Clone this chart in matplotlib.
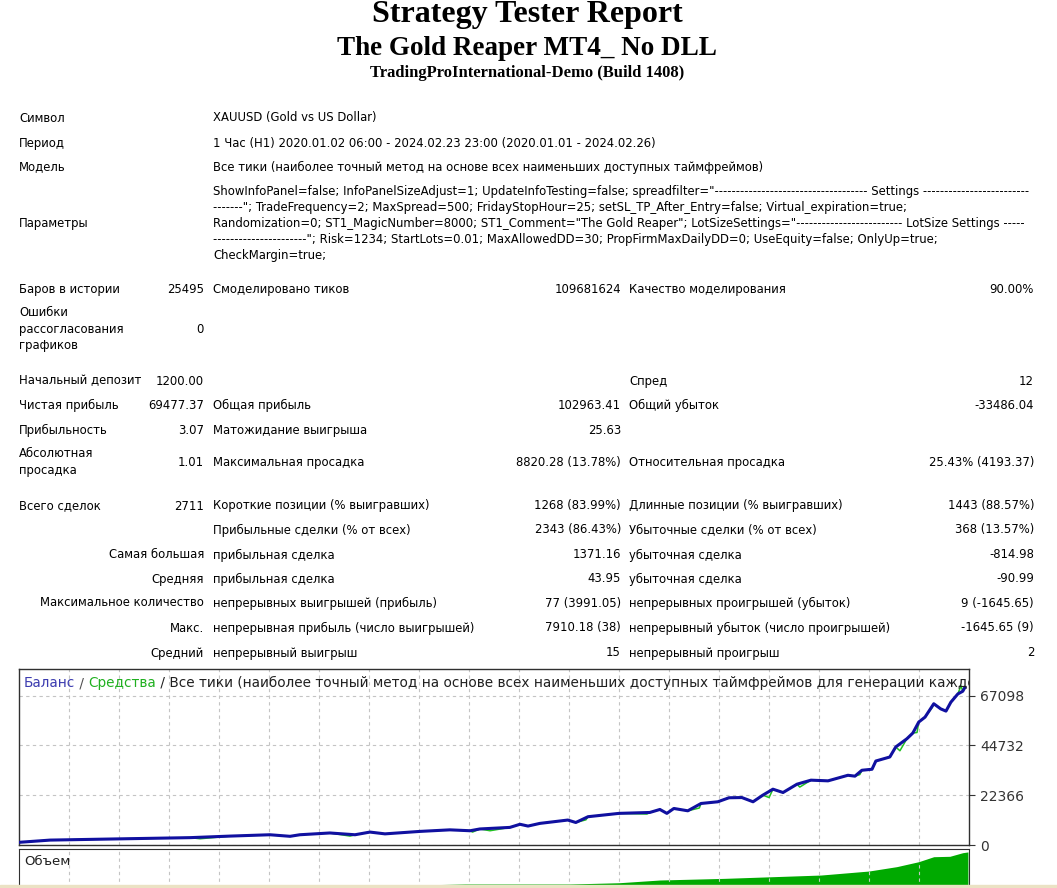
"""
MT4 strategy tester report: header, statistics table and balance/equity chart.
"""
import numpy as np
import matplotlib.pyplot as plt
from matplotlib.patches import Rectangle

W, H = 1057, 888

# ---- header texts
title = "Strategy Tester Report"
expert = "The Gold Reaper MT4_ No DLL"
server = "TradingProInternational-Demo (Build 1408)"

info_labels = ["Символ", "Период", "Модель"]
info_values = [
    "XAUUSD (Gold vs US Dollar)",
    "1 Час (H1) 2020.01.02 06:00 - 2024.02.23 23:00 (2020.01.01 - 2024.02.26)",
    "Все тики (наиболее точный метод на основе всех наименьших доступных таймфреймов)",
]
params_label = "Параметры"
params_lines = [
    'ShowInfoPanel=false; InfoPanelSizeAdjust=1; UpdateInfoTesting=false; spreadfilter="'
    + "-" * 36 + " Settings " + "-" * 25,
    '-------"; TradeFrequency=2; MaxSpread=500; FridayStopHour=25; setSL_TP_After_Entry=false; Virtual_expiration=true;',
    'Randomization=0; ST1_MagicNumber=8000; ST1_Comment="The Gold Reaper"; LotSizeSettings="'
    + "-" * 25 + " LotSize Settings -----",
    "-" * 22 + '"; Risk=1234; StartLots=0.01; MaxAllowedDD=30; PropFirmMaxDailyDD=0; UseEquity=false; OnlyUp=true;',
    "CheckMargin=true;",
]

# ---- statistics table, six columns per row
stats = [
    ("Баров в истории", "25495", "Смоделировано тиков", "109681624", "Качество моделирования", "90.00%"),
    ("Ошибки\nрассогласования\nграфиков", "0", "", "", "", ""),
    ("Начальный депозит", "1200.00", "", "", "Спред", "12"),
    ("Чистая прибыль", "69477.37", "Общая прибыль", "102963.41", "Общий убыток", "-33486.04"),
    ("Прибыльность", "3.07", "Матожидание выигрыша", "25.63", "", ""),
    ("Абсолютная\nпросадка", "1.01", "Максимальная просадка", "8820.28 (13.78%)", "Относительная просадка", "25.43% (4193.37)"),
    ("Всего сделок", "2711", "Короткие позиции (% выигравших)", "1268 (83.99%)", "Длинные позиции (% выигравших)", "1443 (88.57%)"),
    ("", "", "Прибыльные сделки (% от всех)", "2343 (86.43%)", "Убыточные сделки (% от всех)", "368 (13.57%)"),
    ("", "Самая большая", "прибыльная сделка", "1371.16", "убыточная сделка", "-814.98"),
    ("", "Средняя", "прибыльная сделка", "43.95", "убыточная сделка", "-90.99"),
    ("", "Максимальное количество", "непрерывных выигрышей (прибыль)", "77 (3991.05)", "непрерывных проигрышей (убыток)", "9 (-1645.65)"),
    ("", "Макс.", "непрерывная прибыль (число выигрышей)", "7910.18 (38)", "непрерывный убыток (число проигрышей)", "-1645.65 (9)"),
    ("", "Средний", "непрерывный выигрыш", "15", "непрерывный проигрыш", "2"),
]

# ---- balance / equity curve (trade number, account value)
bal_trade = [0, 89, 304, 490, 605, 719, 777, 805, 891, 963, 1006, 1049, 1149, 1235,
             1293, 1321, 1407, 1436, 1459, 1493, 1573, 1596, 1631, 1720, 1808, 1837,
             1857, 1877, 1917, 1955, 2003, 2035, 2072, 2104, 2132, 2161, 2190, 2230,
             2270, 2319, 2376, 2396, 2416, 2445, 2456, 2496, 2513, 2545, 2562, 2579,
             2597, 2622, 2642, 2657, 2671, 2691, 2705, 2711]
bal_value = [1200, 2200, 2800, 3300, 4000, 4600, 3900, 4600, 5400, 4600, 5800, 5000,
             6100, 6800, 6400, 7200, 7900, 9300, 8500, 9700, 11200, 10100, 12700, 14200,
             14600, 15950, 14200, 16400, 15350, 18640, 19400, 21200, 21300, 19400, 22370,
             25050, 23560, 27300, 29100, 28800, 31300, 30900, 33550, 34000, 37700, 39500,
             44000, 47700, 50250, 55200, 57400, 63400, 61100, 60100, 64100, 67800, 69000,
             70677]
# equity drawdowns that show below the balance line
dip_trade = [519, 949, 1300, 1350, 1625, 1800, 1950, 2150, 2238, 2410, 2525, 2574, 2618, 2700]
dip_value = [2800, 4000, 5800, 6400, 11300, 13900, 16600, 21300, 26000, 31600, 42300, 50500, 61800, 71500]

# ---- volume (lots) by trade number
vol_trade = [0, 600, 1000, 1278, 1579, 1720, 1837, 2023, 2161, 2299, 2436, 2516, 2579,
             2622, 2668, 2705, 2720]
vol_lots = [0.05, 0.12, 0.2, 0.41, 0.41, 0.54, 0.82, 0.99, 1.16, 1.33, 1.74, 2.19,
            2.70, 3.21, 3.25, 3.62, 3.70]

y_ticks = [0, 22366, 44732, 67098]

plt.rcParams['font.family'] = ['DejaVu Sans']
fig = plt.figure(figsize=(W / 100, H / 100), dpi=100)
fig.patch.set_facecolor('white')


def put(x, y, s, **kw):
    # place text using pixel coordinates measured from the top-left corner
    kw.setdefault('fontsize', 8.4)
    kw.setdefault('va', 'center')
    fig.text(x / W, 1 - y / H, s, **kw)


serif = ['Liberation Serif', 'DejaVu Serif']
put(527, 22, title, ha='center', va='baseline', fontsize=23, weight='bold', family=serif)
put(527, 55, expert, ha='center', va='baseline', fontsize=19.5, weight='bold', family=serif)
put(527, 77, server, ha='center', va='baseline', fontsize=12, weight='bold', family=serif)

for lab, val, y in zip(info_labels, info_values, [118, 143, 167]):
    put(19, y, lab)
    put(213, y, val)
put(19, 224, params_label)
for i, line in enumerate(params_lines):
    put(213, 191 + i * 16.2, line)

row_y = [289, 329, 381, 405, 430, 462, 506, 530, 555, 579, 603, 628, 653]
col_x = [19, 204, 213, 621, 629, 1034]
col_ha = ['left', 'right', 'left', 'right', 'left', 'right']
for row, y in zip(stats, row_y):
    for cell, x, ha in zip(row, col_x, col_ha):
        lines = cell.split('\n')
        n = len(lines)
        for k, ln in enumerate(lines):
            put(x, y + (k - (n - 1) / 2) * 16.5, ln, ha=ha)

# ---- balance chart
x_max = 2723
grid_x = np.arange(1, 19) * x_max / 19
ax = fig.add_axes([19 / W, 1 - 845 / H, 950 / W, 176 / H])
ax.set_xlim(0, x_max)
ax.set_ylim(0, 79000)

eq_trade = np.array(bal_trade + dip_trade)
eq_value = np.array(bal_value + dip_value)
order = np.argsort(eq_trade, kind='stable')
ax.plot(eq_trade[order], eq_value[order], color='#20c020', lw=1.1, zorder=3)
ax.plot(bal_trade, bal_value, color='#1010a0', lw=2.2, zorder=4)

ax.set_xticks(grid_x)
ax.set_yticks(y_ticks)
ax.set_yticklabels([str(v) for v in y_ticks])
ax.yaxis.tick_right()
ax.tick_params(axis='x', length=0, labelbottom=False)
ax.tick_params(axis='y', length=4, width=0.8, pad=4, labelsize=10, colors='#333333')
ax.grid(True, color='#c4c4c4', lw=0.8, ls=(0, (3, 3)))
for s in ax.spines.values():
    s.set_color('#303030')
    s.set_linewidth(1.0)

# chart caption: coloured parts chained one after another
pieces = [("Баланс", '#3c3cb0'), (" / ", '#505050'), ("Средства", '#20b020'),
          (" / Все тики (наиболее точный метод на основе всех наименьших доступных "
           "таймфреймов для генерации каждого тика)", '#202020')]
prev = ax.text((24 - 19) / 950, (845 - 683) / 176, pieces[0][0], transform=ax.transAxes,
               color=pieces[0][1], fontsize=9.85, va='center', clip_on=True, zorder=5)
for txt, col in pieces[1:]:
    prev = ax.annotate(txt, xy=(1, 0), xycoords=prev, va='bottom', ha='left',
                       color=col, fontsize=9.85, clip_on=True, annotation_clip=False,
                       zorder=5)

# ---- volume panel (cut by the bottom of the page)
vax = fig.add_axes([19 / W, 0, 950 / W, 39 / H])
vax.set_xlim(0, x_max)
vax.set_ylim(0, 4.0)
vax.fill_between(vol_trade, vol_lots, color='#00aa00', lw=0)
vax.set_xticks(grid_x)
vax.set_yticks([])
vax.tick_params(axis='x', length=0, labelbottom=False)
vax.grid(True, axis='x', color='#c4c4c4', lw=0.8, ls=(0, (3, 3)))
vax.spines['bottom'].set_visible(False)
for s in ['left', 'top', 'right']:
    vax.spines[s].set_color('#303030')
vax.text((24 - 19) / 950, (888 - 861) / 39, "Объем", transform=vax.transAxes,
         fontsize=9.5, va='center', color='#202020')

fig.add_artist(Rectangle((0, 0), 1, 3 / H, transform=fig.transFigure,
                         color='#ebe2c4', zorder=5))

fig.savefig('out.png', dpi=100)
